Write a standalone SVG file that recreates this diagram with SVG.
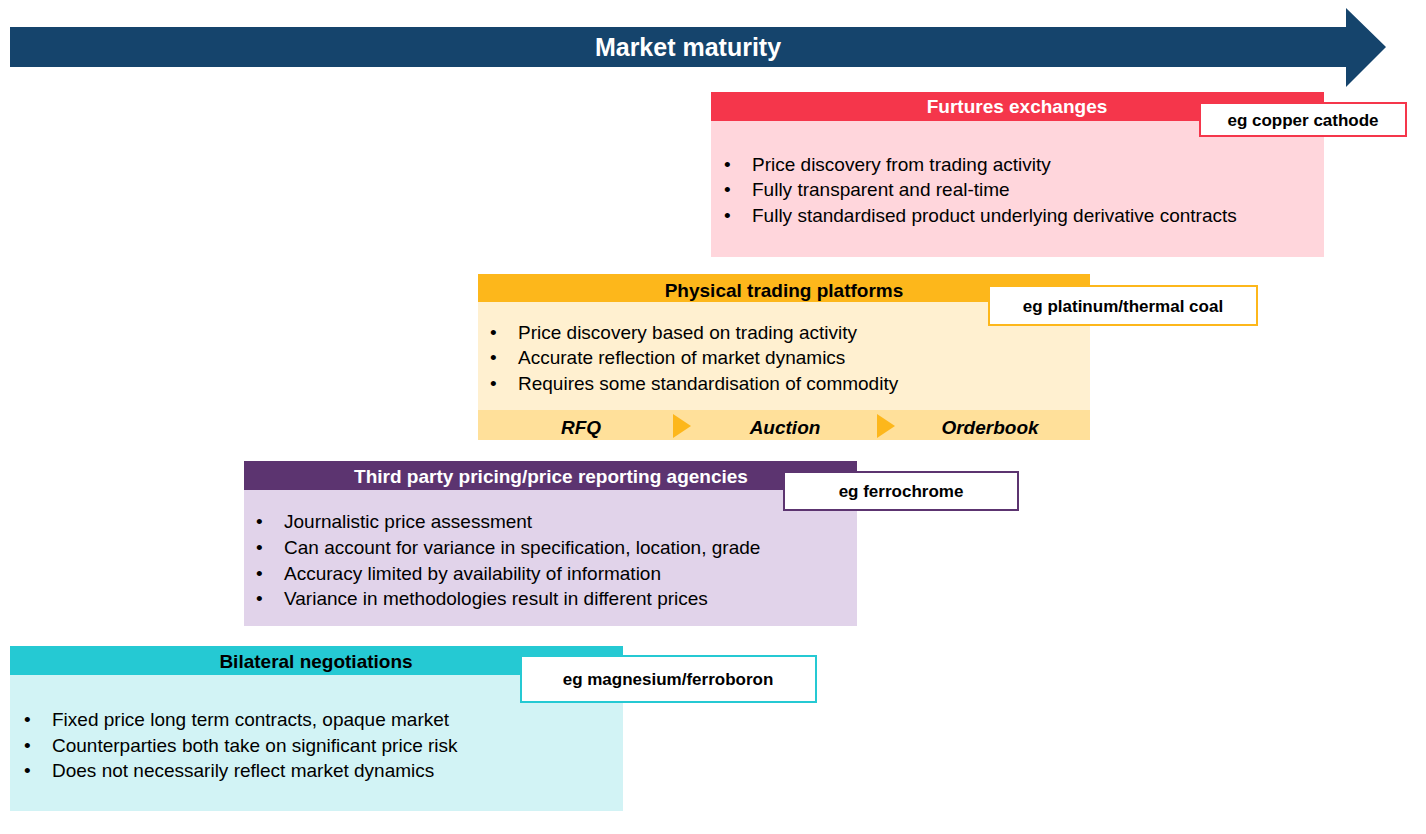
<svg xmlns="http://www.w3.org/2000/svg" width="1426" height="834" viewBox="0 0 1426 834">
<style>
text{font-family:"Liberation Sans",Arial,sans-serif;fill:#000}
.h{font-size:19px;font-weight:bold;text-anchor:middle}
.b{font-size:19px}
.l{font-size:17px;font-weight:bold;text-anchor:middle}
.s{font-size:19px;font-weight:bold;font-style:italic;text-anchor:middle}
.lb{fill:#fff;stroke-width:2}
</style>
<rect width="1426" height="834" fill="#fff"/>
<g id="arrow">
<polygon points="10,27 1346,27 1346,8 1386,47 1346,87 1346,67 10,67" fill="#15446C"/>
<text x="688" y="56" style="font-size:25px;font-weight:bold;fill:#fff;text-anchor:middle">Market maturity</text>
</g>
<g id="futures">
<rect x="711" y="121" width="613" height="136" fill="#FFD6DC"/>
<rect x="711" y="92" width="613" height="29" fill="#F5364B"/>
<text class="h" x="1017" y="113" style="fill:#fff">Furtures exchanges</text>
<rect class="lb" x="1200" y="103" width="206" height="33" stroke="#F5364B"/>
<text class="l" x="1303" y="126">eg copper cathode</text>
<text class="b" x="724" y="171">•</text><text class="b" x="752" y="171">Price discovery from trading activity</text>
<text class="b" x="724" y="196">•</text><text class="b" x="752" y="196">Fully transparent and real-time</text>
<text class="b" x="724" y="222">•</text><text class="b" x="752" y="222">Fully standardised product underlying derivative contracts</text>
</g>
<g id="physical">
<rect x="478" y="302" width="612" height="108" fill="#FFF0D0"/>
<rect x="478" y="274" width="612" height="28" fill="#FDB71B"/>
<rect x="478" y="410" width="612" height="30" fill="#FFE09A"/>
<polygon points="673,414 691,426 673,438" fill="#FDB71B"/>
<polygon points="877,414 895,426 877,438" fill="#FDB71B"/>
<text class="h" x="784" y="297">Physical trading platforms</text>
<rect class="lb" x="989" y="286" width="268" height="39" stroke="#FDB71B"/>
<text class="l" x="1123" y="312">eg platinum/thermal coal</text>
<text class="b" x="490" y="339">•</text><text class="b" x="518" y="339">Price discovery based on trading activity</text>
<text class="b" x="490" y="364">•</text><text class="b" x="518" y="364">Accurate reflection of market dynamics</text>
<text class="b" x="490" y="390">•</text><text class="b" x="518" y="390">Requires some  standardisation of commodity</text>
<text class="s" x="581" y="434">RFQ</text>
<text class="s" x="785" y="434">Auction</text>
<text class="s" x="990" y="434">Orderbook</text>
</g>
<g id="third">
<rect x="244" y="490" width="613" height="136" fill="#E1D3EA"/>
<rect x="244" y="461" width="613" height="29" fill="#5C3470"/>
<text class="h" x="551" y="483" style="fill:#fff">Third party pricing/price reporting agencies</text>
<rect class="lb" x="784" y="472" width="234" height="38" stroke="#5C3470"/>
<text class="l" x="901" y="497">eg ferrochrome</text>
<text class="b" x="256" y="528">•</text><text class="b" x="284" y="528">Journalistic price assessment</text>
<text class="b" x="256" y="554">•</text><text class="b" x="284" y="554">Can account for variance in specification, location, grade</text>
<text class="b" x="256" y="580">•</text><text class="b" x="284" y="580">Accuracy limited by availability of information</text>
<text class="b" x="256" y="605">•</text><text class="b" x="284" y="605">Variance in methodologies result in different prices</text>
</g>
<g id="bilateral">
<rect x="10" y="675" width="613" height="136" fill="#D2F3F5"/>
<rect x="10" y="646" width="613" height="29" fill="#25C9D3"/>
<text class="h" x="316" y="668">Bilateral negotiations</text>
<rect class="lb" x="521" y="656" width="295" height="46" stroke="#25C9D3"/>
<text class="l" x="668" y="685">eg magnesium/ferroboron</text>
<text class="b" x="24" y="726">•</text><text class="b" x="52" y="726">Fixed price long term contracts, opaque market</text>
<text class="b" x="24" y="752">•</text><text class="b" x="52" y="752">Counterparties both take on significant price risk</text>
<text class="b" x="24" y="777">•</text><text class="b" x="52" y="777">Does not necessarily reflect market dynamics</text>
</g>
<g id="connectors"/>
</svg>
